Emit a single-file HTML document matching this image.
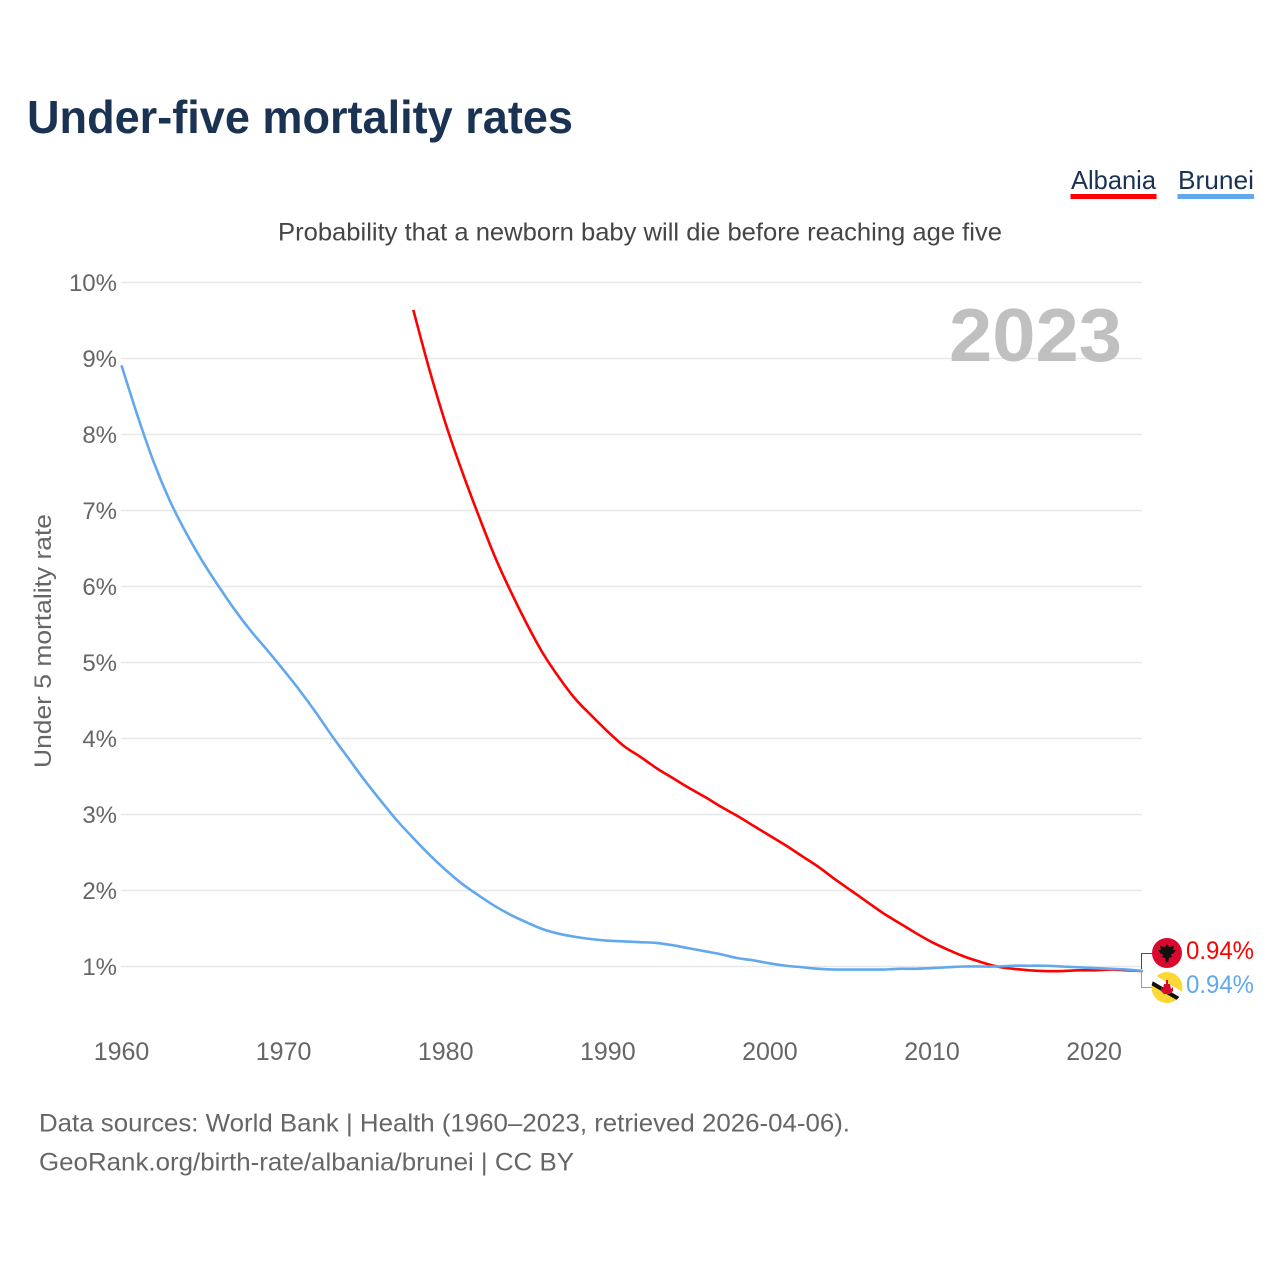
<!DOCTYPE html>
<html lang="en">
<head>
<meta charset="utf-8">
<title>Under-five mortality rates</title>
<style>
html,body{margin:0;padding:0;background:#fff;width:1280px;height:1280px;overflow:hidden}
svg{display:block}
text{font-family:"Liberation Sans",sans-serif}
</style>
</head>
<body>
<svg id="chart" xmlns="http://www.w3.org/2000/svg" width="1280" height="1280" viewBox="0 0 1280 1280">
  <rect width="1280" height="1280" fill="#fff"/>
  <text x="27" y="133" font-size="46" font-weight="700" fill="#1a3353" textLength="546" lengthAdjust="spacingAndGlyphs">Under-five mortality rates</text>
  <g>
    <g>
      <text x="1071" y="189" font-size="26" fill="#1a3353" textLength="85" lengthAdjust="spacingAndGlyphs">Albania</text>
      <rect x="1070.5" y="194" width="86" height="5" fill="#ff0000"/>
    </g>
    <g>
      <text x="1178" y="189" font-size="26" fill="#1a3353" textLength="76" lengthAdjust="spacingAndGlyphs">Brunei</text>
      <rect x="1177.5" y="194" width="76.5" height="5" fill="#62a8ee"/>
    </g>
  </g>
  <text x="278" y="240.5" font-size="25" fill="#454545" textLength="724" lengthAdjust="spacingAndGlyphs">Probability that a newborn baby will die before reaching age five</text>
  <g id="grid"></g>
  <g id="yticks"></g>
  <g id="xticks"></g>
  <text transform="translate(51 768) rotate(-90)" font-size="24" fill="#666" textLength="254" lengthAdjust="spacingAndGlyphs">Under 5 mortality rate</text>
  <text x="949" y="361" font-size="75" font-weight="700" fill="#c0c0c0" textLength="173" lengthAdjust="spacingAndGlyphs">2023</text>
  <g id="series"></g>

  <path d="M1141.5 969V953.5H1152" fill="none" stroke="#ff0000" stroke-width="1"/>
  <path d="M1141.5 971V987.5H1152" fill="none" stroke="#62a8ee" stroke-width="1"/>

  <g>
    <circle cx="1167" cy="953" r="15" fill="#d9082e"/>
    <path d="M1167 944l2 3 5-1-1 4 3 0-3 4-2 0 1 3-3 1-1 5-1-2-1 2-1-5-3-1 1-3-2 0-3-4 3 0-1-4 5 1z" fill="#111"/>
  </g>
  <g>
    <clipPath id="bruneiClip"><circle cx="1167" cy="987.5" r="15.5"/></clipPath>
    <g clip-path="url(#bruneiClip)">
      <rect x="1150" y="970" width="34" height="35" fill="#fdd835"/>
      <path d="M1150 976L1184 997" stroke="#fff" stroke-width="7"/>
      <path d="M1150 982L1184 1002" stroke="#111" stroke-width="4"/>
      <path d="M1166 980h2v4h2l1 5 2-2 0 4-3 3h-6l-3-3 0-4 2 2 1-5h2z" fill="#d9082e"/>
    </g>
  </g>
  <text x="1186" y="959" font-size="25" fill="#ff0000" textLength="68" lengthAdjust="spacingAndGlyphs">0.94%</text>
  <text x="1186" y="993" font-size="25" fill="#62a8ee" textLength="68" lengthAdjust="spacingAndGlyphs">0.94%</text>

  <text x="39" y="1131.5" font-size="25" fill="#666" textLength="811" lengthAdjust="spacingAndGlyphs">Data sources: World Bank | Health (1960–2023, retrieved 2026-04-06).</text>
  <text x="39" y="1170.5" font-size="25" fill="#666" textLength="535" lengthAdjust="spacingAndGlyphs">GeoRank.org/birth-rate/albania/brunei | CC BY</text>
</svg>
<script>
const yTicks = [1, 2, 3, 4, 5, 6, 7, 8, 9, 10];
const xTicks = [1960, 1970, 1980, 1990, 2000, 2010, 2020];
const bruneiStartYear = 1960;
const bruneiValues = [8.91,8.24,7.63,7.12,6.70,6.33,6.00,5.69,5.41,5.16,4.90,4.63,4.34,4.03,3.74,3.45,3.18,2.92,2.69,2.47,2.27,2.09,1.94,1.80,1.68,1.58,1.49,1.43,1.39,1.36,1.34,1.33,1.32,1.31,1.28,1.24,1.20,1.16,1.11,1.08,1.04,1.01,0.99,0.97,0.96,0.96,0.96,0.96,0.97,0.97,0.98,0.99,1.00,1.00,1.00,1.01,1.01,1.01,1.00,0.99,0.98,0.97,0.96,0.94];
const albaniaStartYear = 1978;
const albaniaValues = [9.64,8.85,8.14,7.52,6.95,6.41,5.94,5.51,5.12,4.80,4.52,4.30,4.09,3.90,3.76,3.61,3.48,3.35,3.23,3.10,2.98,2.85,2.72,2.59,2.45,2.31,2.15,2.00,1.85,1.70,1.57,1.44,1.32,1.22,1.13,1.06,1.00,0.97,0.95,0.94,0.94,0.95,0.95,0.96,0.95,0.94];

const SVGNS = 'http://www.w3.org/2000/svg';
const xScale = function (year) { return 121.5 + (year - 1960) * 16.21; };
const yScale = function (v) { return 966.5 - (v - 1) * 76; };

const grid = document.getElementById('grid');
const yG = document.getElementById('yticks');
const xG = document.getElementById('xticks');
const seriesG = document.getElementById('series');

yTicks.forEach(function (t) {
  const line = document.createElementNS(SVGNS, 'line');
  
  
  line.setAttribute('x1', 121);
  line.setAttribute('x2', 1142);
  line.setAttribute('y1', yScale(t));
  line.setAttribute('y2', yScale(t));
  line.setAttribute('stroke', '#e8e8e8');
  line.setAttribute('stroke-width', '1.4');
  grid.appendChild(line);

  const label = document.createElementNS(SVGNS, 'text');
  
  
  label.setAttribute('x', 117);
  label.setAttribute('y', yScale(t) + 8.5);
  label.setAttribute('text-anchor', 'end');
  label.setAttribute('font-size', '24');
  label.setAttribute('fill', '#666');
  label.textContent = t + '%';
  yG.appendChild(label);
});

xTicks.forEach(function (t) {
  const label = document.createElementNS(SVGNS, 'text');
  
  
  label.setAttribute('x', xScale(t));
  label.setAttribute('y', 1060);
  label.setAttribute('text-anchor', 'middle');
  label.setAttribute('font-size', '25');
  label.setAttribute('fill', '#666');
  label.textContent = t;
  xG.appendChild(label);
});

function smoothPath(values, startYear) {
  const pts = values.map(function (v, i) {
    return [xScale(startYear + i), yScale(v)];
  });
  let d = 'M' + pts[0][0].toFixed(2) + ' ' + pts[0][1].toFixed(2);
  for (let i = 0; i < pts.length - 1; i++) {
    const p0 = pts[Math.max(i - 1, 0)];
    const p1 = pts[i];
    const p2 = pts[i + 1];
    const p3 = pts[Math.min(i + 2, pts.length - 1)];
    const c1x = p1[0] + (p2[0] - p0[0]) / 6;
    const c1y = p1[1] + (p2[1] - p0[1]) / 6;
    const c2x = p2[0] - (p3[0] - p1[0]) / 6;
    const c2y = p2[1] - (p3[1] - p1[1]) / 6;
    d += 'C' + c1x.toFixed(2) + ' ' + c1y.toFixed(2) + ' ' + c2x.toFixed(2) + ' ' + c2y.toFixed(2) + ' ' + p2[0].toFixed(2) + ' ' + p2[1].toFixed(2);
  }
  return d;
}

const albaniaLine = document.createElementNS(SVGNS, 'path');


albaniaLine.setAttribute('d', smoothPath(albaniaValues, albaniaStartYear));
albaniaLine.setAttribute('fill', 'none');
albaniaLine.setAttribute('stroke', '#ff0000');
albaniaLine.setAttribute('stroke-width', '2.6');
albaniaLine.setAttribute('stroke-linejoin', 'round');
seriesG.appendChild(albaniaLine);

const bruneiLine = document.createElementNS(SVGNS, 'path');


bruneiLine.setAttribute('d', smoothPath(bruneiValues, bruneiStartYear));
bruneiLine.setAttribute('fill', 'none');
bruneiLine.setAttribute('stroke', '#62a8ee');
bruneiLine.setAttribute('stroke-width', '2.6');
bruneiLine.setAttribute('stroke-linejoin', 'round');
seriesG.appendChild(bruneiLine);
</script>
</body>
</html>
